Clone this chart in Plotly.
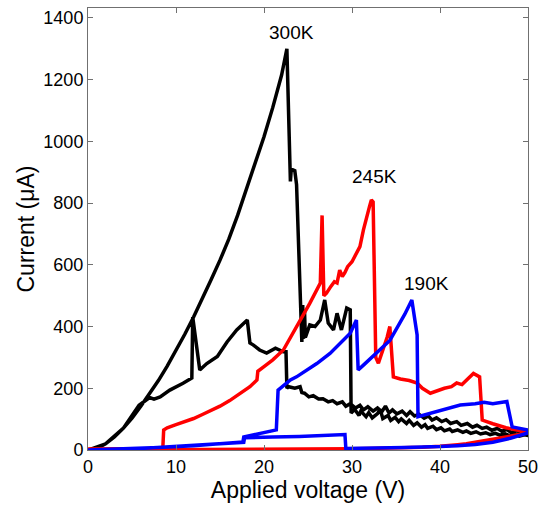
import plotly.graph_objects as go

# ---- 300K (black) ----
v300 = [0, 1, 2, 3, 4, 5, 6, 7, 8, 9, 10, 11, 12, 13, 14, 15, 16, 17, 18, 19, 20, 21, 22, 22.6,
        23.0, 23.1, 23.5, 23.7, 24.1, 24.3, 24.4, 24.5, 24.6, 24.7, 25.2, 25.8, 26.4, 26.9, 27.3, 27.9, 28.3, 28.8, 29.4, 29.8,
        29.9, 30.3, 30.8, 31.0, 31.6, 31.9, 32.3, 32.9, 33.2, 33.5, 34.1, 34.4, 34.9, 35.3, 35.6, 36.2, 36.5, 37.0,
        37.4, 37.9, 38.3, 38.6, 39.2, 39.6, 40.1, 40.5, 41.1, 41.4, 42.0, 42.6, 43.0, 43.5, 44.1, 44.6, 45.2, 45.7,
        46.3, 46.8, 47.4, 47.9, 48.5, 49.0, 49.6, 50,
        50, 49.7, 49.2, 48.8, 48.1, 47.6, 47.0, 46.5, 45.9, 45.3, 44.8, 44.2, 43.7, 43.1, 42.4, 41.9, 41.2, 40.7,
        40.2, 39.6, 39.1, 38.7, 38.2, 37.6, 37.1, 36.6, 36.2, 35.7, 35.1, 34.6, 34.2, 33.8, 33.4, 32.9, 32.4, 31.8,
        31.3, 30.9, 30.4, 29.8, 29.3, 28.9, 28.3, 27.8, 27.3, 26.7, 26.2, 25.6, 25.1, 24.6,
        24.3, 24.1, 23.5, 22.8, 22.6, 22.5, 22.2, 21.3, 20.3, 19.5, 18.8, 18.4, 18.1, 17.5, 16.9, 15.8, 14.7,
        13.5, 12.7, 11.9, 11.8, 10.8, 9.3, 8.2, 7.5, 7.0, 6.5, 6.0, 5.8, 4, 2, 0]
i300 = [0, 5, 20, 42, 70, 103, 142, 182, 225, 272, 322, 375, 431, 490, 552, 615, 683, 760, 843, 930, 1015, 1110, 1215, 1300,
        870, 910, 905, 860, 500, 350, 470, 360, 455, 365, 405, 400, 421, 486, 411, 389, 443, 389, 460, 454,
        120, 132, 112, 126, 108, 121, 104, 118, 132, 102, 112, 96, 106, 92, 101, 86, 96, 80,
        88, 74, 82, 70, 77, 66, 72, 62, 68, 60, 65, 57, 62, 54, 59, 52, 56, 50,
        54, 48, 52, 46, 51, 45, 49, 47,
        52, 58, 54, 62, 57, 66, 61, 70, 64, 74, 70, 80, 74, 86, 80, 92, 86, 98,
        92, 104, 97, 110, 103, 116, 110, 124, 112, 126, 117, 130, 120, 142, 124, 136, 126, 140,
        130, 145, 136, 150, 142, 156, 150, 160, 156, 166, 165, 176, 172, 184,
        186, 205, 200, 205, 200, 318, 318, 330, 314, 324, 340, 347, 421, 405, 389, 350, 303,
        280, 259, 431, 233, 216, 194, 172, 165, 170, 160, 150, 145, 70, 20, 0]

# ---- 245K (red) ----
v245 = [0, 4, 8.5, 8.6, 9.0, 10, 11, 12, 13, 14.2, 15, 16.1, 17, 18.4, 19.2, 19.3, 20, 21, 22.2, 23.7, 25.2,
        26.4, 26.6, 26.8, 27.1, 27.6, 28.0, 28.3, 28.6, 28.9, 29.2, 29.5, 30.0, 30.9, 31.3, 32.0, 32.2, 32.4,
        32.7, 33.0, 33.5, 34.0, 34.3, 34.7, 35.5, 36.5, 37.4, 38.0, 38.9, 39.5, 40.5, 41.3, 41.9, 42.5, 43.3,
        43.8, 44.5, 44.8, 46, 47.5, 50,
        50, 49, 48, 47, 46, 45, 44, 43, 42, 41, 40, 38, 36, 34, 32, 30, 25, 20, 10, 0]
i245 = [3, 4, 5, 65, 72, 82, 92, 102, 115, 130, 142, 160, 178, 205, 227, 255, 270, 292, 324, 399, 475,
        541, 760, 500, 508, 530, 545, 541, 583, 562, 575, 594, 610, 659, 713, 790, 810, 804,
        300, 281, 320, 366, 400, 237, 230, 225, 217, 200, 184, 190, 200, 205, 217, 212, 235,
        248, 237, 97, 85, 72, 58,
        60, 50, 45, 38, 33, 28, 24, 20, 17, 14, 12, 9, 7, 6, 5, 4, 3, 2, 1, 0]

# ---- 190K (blue) ----
v190 = [0, 4, 8, 12, 16, 17.6, 17.7, 19, 21.4, 21.6, 23.0, 23.7, 25, 26, 27.5, 29.8, 30.5, 30.7, 31.3, 32.4,
        33.5, 34.3, 35.1, 36.0, 36.8, 37.4, 37.5, 40, 42.3, 44, 45, 46, 47.6, 48.2, 50,
        50, 48, 46, 44, 42, 40, 36, 32, 29.3, 29.2, 27, 24, 21, 17.8, 17.7, 12, 6, 0]
i190 = [0, 3, 8, 14, 22, 26, 42, 50, 65, 194, 227, 237, 260, 280, 313, 378, 421, 259, 275, 305,
        335, 355, 395, 440, 486, 373, 108, 128, 146, 150, 155, 150, 157, 75, 65,
        55, 38, 25, 18, 14, 11, 8, 6, 5, 50, 47, 44, 42, 40, 25, 14, 5, 0]

labels = ["300K", "245K", "190K"]
label_x = [23.1, 32.6, 38.5]
label_y = [1354, 885, 541]

xticks = [0, 10, 20, 30, 40, 50]
yticks = [0, 200, 400, 600, 800, 1000, 1200, 1400]

FONT = "Liberation Sans, Arial, sans-serif"

fig = go.Figure()
fig.add_trace(go.Scatter(x=v300, y=i300, mode="lines", line=dict(color="#000000", width=3.5), showlegend=False))
fig.add_trace(go.Scatter(x=v245, y=i245, mode="lines", line=dict(color="#ff0000", width=3.5), showlegend=False))
fig.add_trace(go.Scatter(x=v190, y=i190, mode="lines", line=dict(color="#0000ff", width=3.5), showlegend=False))

for t, x, y in zip(labels, label_x, label_y):
    fig.add_annotation(x=x, y=y, text=t, showarrow=False, font=dict(family=FONT, size=19, color="#000"))

axis_common = dict(showline=True, linecolor="#707070", linewidth=1, mirror="ticks", ticks="inside",
                   ticklen=5, tickcolor="#707070", showgrid=False, zeroline=False, automargin=False,
                   tickfont=dict(family=FONT, size=18, color="#000"))

fig.update_xaxes(range=[0, 50], tickvals=xticks, ticktext=[str(v) for v in xticks],
                 title=dict(text="Applied voltage (V)", font=dict(family=FONT, size=23, color="#000"), standoff=4),
                 **axis_common)
fig.update_yaxes(range=[0, 1432], tickvals=yticks, ticktext=[str(v) for v in yticks],
                 title=dict(text="Current (\u03bcA)", font=dict(family=FONT, size=23, color="#000"), standoff=2),
                 **axis_common)

fig.update_layout(width=539, height=508, margin=dict(l=88, r=11, t=8, b=58),
                  plot_bgcolor="white", paper_bgcolor="white")

fig.write_html("out.html")
